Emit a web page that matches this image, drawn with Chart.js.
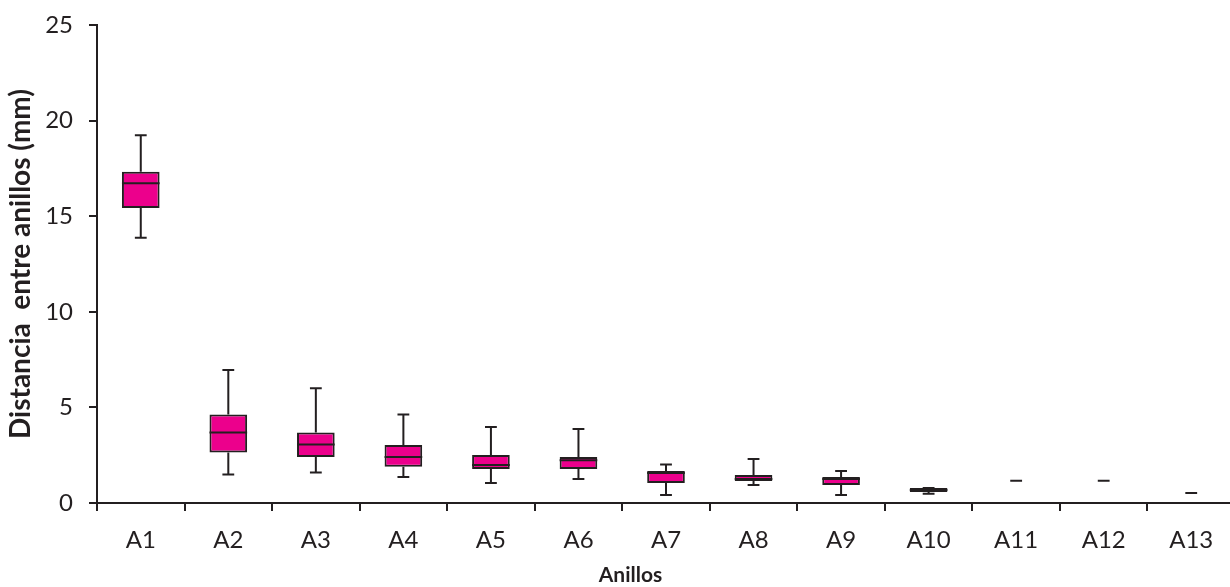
<!DOCTYPE html>
<html>
<head>
<meta charset="utf-8">
<script src="https://cdn.jsdelivr.net/npm/chart.js@4.4.1/dist/chart.umd.min.js"></script>
<style>
  html, body { margin: 0; padding: 0; background: #fff; overflow: hidden; }
  #wrap { width: 1236px; height: 587px; }
</style>
</head>
<body>
<div id="wrap"><canvas id="boxChart" width="1236" height="587"></canvas></div>
<script>
const labels = ["A1", "A2", "A3", "A4", "A5", "A6", "A7", "A8", "A9", "A10", "A11", "A12", "A13"];
const mins    = [13.87, 1.49, 1.59, 1.36, 1.05, 1.26, 0.42, 0.94, 0.42, 0.49, 1.17, 1.17, 0.52];
const q1s     = [15.43, 2.64, 2.41, 1.89, 1.78, 1.78, 1.05, 1.15, 0.94, 0.58, null, null, null];
const medians = [16.72, 3.69, 3.06, 2.41, 1.99, 2.24, 1.57, 1.26, 1.26, 0.68, null, null, null];
const q3s     = [17.33, 4.63, 3.69, 3.04, 2.51, 2.41, 1.68, 1.47, 1.36, 0.79, null, null, null];
const maxs    = [19.23, 6.95, 6.00, 4.63, 3.98, 3.87, 2.01, 2.30, 1.68, 0.79, 1.17, 1.17, 0.52];
const yTicks  = [0, 5, 10, 15, 20, 25];

const ink = "#231f20";
const pink = "#ec008c";

// whiskers under the boxes, medians on top
const boxPlugin = {
  id: "boxParts",
  beforeDatasetsDraw(chart) {
    const { ctx, scales: { x, y } } = chart;
    const boxW = x.getPixelForValue(1) - x.getPixelForValue(0);
    const capW = boxW * 0.135;
    ctx.save();
    ctx.strokeStyle = ink;
    ctx.lineWidth = 2;
    labels.forEach((l, i) => {
      const cx = x.getPixelForValue(i);
      const top = q3s[i] != null ? q3s[i] : maxs[i];
      const bot = q1s[i] != null ? q1s[i] : mins[i];
      ctx.beginPath();
      ctx.moveTo(cx, y.getPixelForValue(top));
      ctx.lineTo(cx, y.getPixelForValue(maxs[i]));
      ctx.moveTo(cx, y.getPixelForValue(bot));
      ctx.lineTo(cx, y.getPixelForValue(mins[i]));
      ctx.moveTo(cx - capW / 2, y.getPixelForValue(maxs[i]));
      ctx.lineTo(cx + capW / 2, y.getPixelForValue(maxs[i]));
      ctx.moveTo(cx - capW / 2, y.getPixelForValue(mins[i]));
      ctx.lineTo(cx + capW / 2, y.getPixelForValue(mins[i]));
      ctx.stroke();
    });
    ctx.restore();
  },
  afterDatasetsDraw(chart) {
    const { ctx, scales: { y } } = chart;
    const meta = chart.getDatasetMeta(0);
    ctx.save();
    ctx.strokeStyle = ink;
    ctx.lineWidth = 2;
    meta.data.forEach((bar, i) => {
      if (medians[i] == null) return;
      const my = y.getPixelForValue(medians[i]);
      ctx.beginPath();
      ctx.moveTo(bar.x - bar.width / 2, my);
      ctx.lineTo(bar.x + bar.width / 2, my);
      ctx.stroke();
    });
    ctx.restore();
  }
};

new Chart(document.getElementById("boxChart"), {
  type: "bar",
  data: {
    labels: labels,
    datasets: [{
      data: q1s.map((v, i) => v == null ? null : [v, q3s[i]]),
      backgroundColor: pink,
      borderColor: ink,
      borderWidth: 2,
      borderSkipped: false,
      categoryPercentage: 1,
      barPercentage: 0.43
    }]
  },
  options: {
    responsive: false,
    animation: false,
    layout: { padding: { top: 25, right: 1, bottom: 0, left: 26 } },
    plugins: {
      legend: { display: false },
      tooltip: { enabled: false },
      // x axis title, centred on the whole figure like the original
      title: {
        display: true,
        position: "bottom",
        text: "Anillos",
        color: ink,
        font: { family: "Lato", size: 21, weight: "bold", lineHeight: 1 },
        padding: { top: 0, bottom: 1 }
      }
    },
    scales: {
      x: {
        grid: { drawOnChartArea: false, drawTicks: true, tickLength: 8, color: ink, lineWidth: 2, offset: true },
        border: { display: true, color: ink, width: 2 },
        ticks: { color: ink, font: { family: "Lato", size: 24 }, padding: 15 },
        afterFit: s => { s.height = 62; }
      },
      y: {
        min: 0,
        max: 25,
        afterBuildTicks: s => { s.ticks = yTicks.map(v => ({ value: v })); },
        grid: { drawOnChartArea: false, drawTicks: true, tickLength: 8, color: ink, lineWidth: 2 },
        border: { display: true, color: ink, width: 2 },
        ticks: { color: ink, font: { family: "Lato", size: 24 }, padding: 16 },
        title: { display: true, text: "Distancia  entre anillos (mm)", color: ink, font: { family: "Lato", size: 28, weight: "bold", lineHeight: 1 }, padding: { top: -19, bottom: 0 } },
        afterFit: s => {
          s.width = 71;
          // label overhang only, so the top tick sits where the original has it
          s.paddingTop = 14;
          s.paddingBottom = 14;
        }
      }
    }
  },
  plugins: [boxPlugin]
});
</script>
</body>
</html>
